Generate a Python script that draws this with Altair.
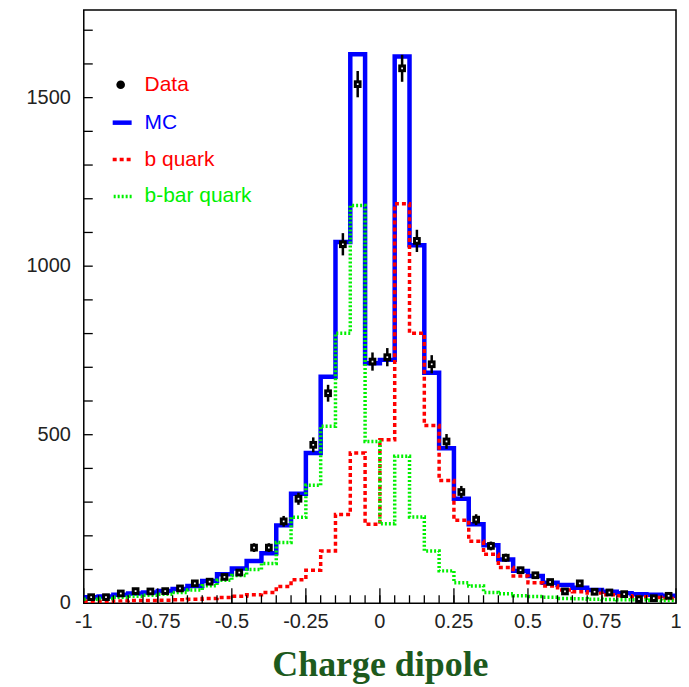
import altair as alt
import pandas as pd
import numpy as np

# ---- data (40 bins of width 0.05 on [-1, 1]) ----
bin_edges = list(np.round(np.linspace(-1, 1, 41), 4))
bin_centers = list(np.round(np.linspace(-0.975, 0.975, 40), 4))

mc = [18, 20, 25, 29, 32, 36, 42, 51, 66, 86, 103, 125, 148, 231, 325, 446, 672, 1072, 1629, 712,
      722, 1622, 1062, 684, 460, 310, 234, 172, 130, 96, 81, 61, 54, 46, 39, 34, 30, 27, 25, 22]
b_quark = [6, 6, 7, 8, 8, 9, 10, 12, 14, 17, 21, 25, 32, 50, 70, 98, 155, 263, 446, 234,
           485, 1185, 801, 527, 364, 246, 184, 145, 106, 81, 61, 51, 39, 34, 30, 25, 22, 19, 17, 14]
bbar_quark = [12, 14, 18, 21, 24, 27, 32, 39, 52, 68, 82, 100, 118, 180, 255, 350, 525, 801, 1180, 480,
              236, 436, 256, 155, 96, 61, 51, 32, 28, 22, 20, 18, 14, 13, 12, 11, 10, 10, 9, 8]
data_vals = [18, 18, 29, 36, 35, 36, 44, 59, 64, 78, 91, 165, 165, 243, 310, 470, 623, 1065, 1540, 717,
             730, 1587, 1075, 709, 480, 330, 248, 170, 135, 98, 83, 63, 35, 59, 34, 32, 27, 12, 15, 22]
data_err = [4, 4, 5, 6, 6, 6, 7, 8, 8, 9, 10, 13, 13, 16, 18, 22, 25, 33, 39, 27,
            27, 40, 33, 27, 22, 18, 16, 13, 12, 10, 9, 8, 6, 8, 6, 6, 5, 3, 4, 5]

x_tick_values = [-1, -0.75, -0.5, -0.25, 0, 0.25, 0.5, 0.75, 1]
x_tick_text = ["-1", "-0.75", "-0.5", "-0.25", "0", "0.25", "0.5", "0.75", "1"]
y_tick_values = [0, 500, 1000, 1500]
y_tick_text = ["0", "500", "1000", "1500"]
x_minor = list(np.round(np.arange(-0.95, 1.0, 0.05), 4))
y_minor = list(range(100, 1800, 100))

legend_names = ["Data", "MC", "b quark", "b-bar quark"]

W, H = 594, 595
xs = alt.Scale(domain=[-1, 1], nice=False, zero=False)
ys = alt.Scale(domain=[0, 1760], nice=False, zero=True)


def step_df(vals):
    return pd.DataFrame({"x": bin_edges, "y": list(vals) + [vals[-1]]})


def step_layer(vals, color, width, dash=None):
    kw = dict(color=color, strokeWidth=width, interpolate="step-after", clip=True)
    if dash:
        kw["strokeDash"] = dash
    return alt.Chart(step_df(vals)).mark_line(**kw).encode(
        x=alt.X("x:Q", scale=xs,
                axis=alt.Axis(values=x_tick_values, labels=False, title="Charge dipole",
                              titleBaseline="alphabetic", titleY=72)),
        y=alt.Y("y:Q", scale=ys, axis=alt.Axis(values=y_tick_values, labels=False, title=None)),
    )


mc_layer = step_layer(mc, "#0000ff", 4.5)
b_layer = step_layer(b_quark, "#ff0000", 3.5, [4, 3])
bb_layer = step_layer(bbar_quark, "#00f000", 3.5, [2, 2])

pts = pd.DataFrame({"x": bin_centers, "y": data_vals,
                    "lo": [v - e for v, e in zip(data_vals, data_err)],
                    "hi": [v + e for v, e in zip(data_vals, data_err)]})
err = alt.Chart(pts).mark_rule(color="black", strokeWidth=2.5).encode(
    x=alt.X("x:Q", scale=xs), y=alt.Y("lo:Q", scale=ys), y2="hi:Q")
marker = alt.Chart(pts).mark_point(shape="square", filled=True, color="black", size=60, opacity=1).encode(
    x=alt.X("x:Q", scale=xs), y=alt.Y("y:Q", scale=ys))
center = alt.Chart(pts).mark_point(shape="square", filled=True, color="white", size=3, opacity=1).encode(
    x=alt.X("x:Q", scale=xs), y=alt.Y("y:Q", scale=ys))

# inward ticks
xmaj = alt.Chart(pd.DataFrame({"v": x_tick_values})).mark_rule(color="black", strokeWidth=1.3).encode(
    x=alt.X("v:Q", scale=xs), y=alt.value(H), y2=alt.value(H - 15))
xmin = alt.Chart(pd.DataFrame({"v": x_minor})).mark_rule(color="black", strokeWidth=1.3).encode(
    x=alt.X("v:Q", scale=xs), y=alt.value(H), y2=alt.value(H - 8))
ymaj = alt.Chart(pd.DataFrame({"v": y_minor})).mark_rule(color="black", strokeWidth=1.3).encode(
    y=alt.Y("v:Q", scale=ys), x=alt.value(0), x2=alt.value(9))

# tick labels as text marks placed through the scales
xlab = alt.Chart(pd.DataFrame({"v": x_tick_values, "t": x_tick_text})).mark_text(
    font="Liberation Sans", fontSize=20, color="#222", baseline="middle", align="center").encode(
    x=alt.X("v:Q", scale=xs), y=alt.value(H + 19), text="t:N")
ylab = alt.Chart(pd.DataFrame({"v": y_tick_values, "t": y_tick_text})).mark_text(
    font="Liberation Sans", fontSize=20, color="#222", baseline="middle", align="right").encode(
    y=alt.Y("v:Q", scale=ys), x=alt.value(-13), text="t:N")

# legend
one = pd.DataFrame({"a": [0]})
leg_y = [75, 113, 150, 187]
text_colors = ["#ff0000", "#0000ff", "#ff0000", "#00f000"]
leg = []
leg.append(alt.Chart(one).mark_point(shape="circle", filled=True, color="black", size=75, opacity=1).encode(
    x=alt.value(37), y=alt.value(leg_y[0])))
leg.append(alt.Chart(one).mark_rule(color="#0000ff", strokeWidth=4.5).encode(
    x=alt.value(29), x2=alt.value(48), y=alt.value(leg_y[1])))
leg.append(alt.Chart(one).mark_rule(color="#ff0000", strokeWidth=3.5, strokeDash=[4, 3]).encode(
    x=alt.value(29), x2=alt.value(49), y=alt.value(leg_y[2])))
leg.append(alt.Chart(one).mark_rule(color="#00f000", strokeWidth=3.5, strokeDash=[2, 2]).encode(
    x=alt.value(30), x2=alt.value(49), y=alt.value(leg_y[3])))
for name, yy, c in zip(legend_names, leg_y, text_colors):
    leg.append(alt.Chart(one).mark_text(align="left", baseline="middle", font="Liberation Sans",
                                        fontSize=21, color=c).encode(
        x=alt.value(61), y=alt.value(yy), text=alt.value(name)))

chart = alt.layer(mc_layer, b_layer, bb_layer, xmaj, xmin, ymaj, err, marker, center,
                  xlab, ylab, *leg).properties(
    width=W, height=H,
    autosize=alt.AutoSizeParams(type="none"),
    padding={"left": 76, "top": 1, "right": 5, "bottom": 80},
    background="white",
).configure_view(stroke="black", strokeWidth=1.5).configure_axis(
    domain=False, ticks=False, grid=False, titleFont="Liberation Serif", titleFontWeight="bold",
    titleFontSize=36, titleColor="#1d5a1d",
)

chart.save("out.html", embed_options={"renderer": "svg", "actions": False})
